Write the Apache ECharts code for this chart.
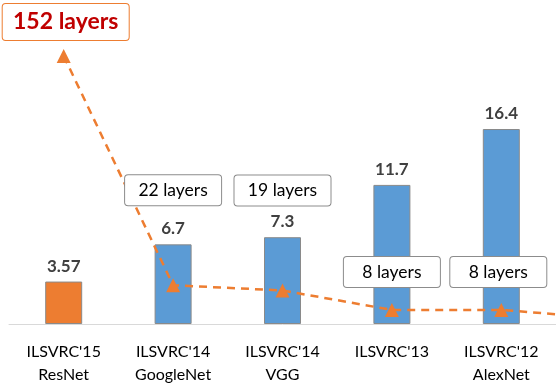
<!DOCTYPE html>
<html>
<head>
<meta charset="utf-8">
<script src="https://cdn.jsdelivr.net/npm/echarts@6/dist/echarts.min.js"></script>
<style>
  html, body { margin: 0; padding: 0; background: #fff; }
  #chart { width: 556px; height: 386px; }
</style>
</head>
<body>
<div id="chart"></div>
<script>
// ILSVRC winners: top-5 error (bars) and depth (dashed line)
var categories = ['ILSVRC\'15\nResNet', 'ILSVRC\'14\nGoogleNet', 'ILSVRC\'14\nVGG', 'ILSVRC\'13', 'ILSVRC\'12\nAlexNet']
var errorRates = [3.57, 6.7, 7.3, 11.7, 16.4]
var layers = [152, 22, 19, 8, 8]
var layerTail = 3 // line keeps going off the right edge
var layerLabels = ['152 layers', '22 layers', '19 layers', '8 layers', '8 layers']

var FONT = 'Lato, "Liberation Sans", sans-serif'
var BLUE = '#5b9bd5'
var ORANGE = '#ed7d31'
// where each layer box sits relative to its triangle
var boxOffsets = [[2, -34], [0, -95], [0, -100], [0, -38], [-3, -38]]

var barData = errorRates.map(function (v, i) {
  return { value: v, itemStyle: { color: i === 0 ? ORANGE : BLUE } }
})

var lineData = layers.map(function (v, i) {
  var big = i === 0
  return {
    value: [i, v],
    label: {
      show: true,
      position: 'inside',
      offset: boxOffsets[i],
      formatter: layerLabels[i],
      fontFamily: FONT,
      fontSize: big ? 23 : 17.5,
      fontWeight: big ? 'bold' : 'normal',
      color: big ? '#c00000' : '#000',
      backgroundColor: '#fff',
      borderColor: big ? ORANGE : '#8c8c8c',
      borderWidth: 1,
      borderRadius: 3,
      width: big ? 126 : 96,
      height: big ? 36 : 30,
      lineHeight: big ? 36 : 30,
      align: 'center',
      verticalAlign: 'middle'
    }
  }
})
lineData.push({ value: [layers.length, layerTail], symbol: 'none', label: { show: false } })

var option = {
  animation: false,
  grid: { left: 9, right: -3, top: 3, bottom: 61, containLabel: false },
  xAxis: [
    {
      type: 'category',
      data: categories,
      axisTick: { show: false },
      axisLine: { lineStyle: { color: '#d9d9d9', width: 1 } },
      axisLabel: { color: '#000', fontFamily: FONT, fontSize: 16, lineHeight: 23, margin: 16 }
    },
    { type: 'value', min: -0.5, max: 4.5, show: false }
  ],
  yAxis: [
    { type: 'value', min: 0, max: 27, show: false, splitLine: { show: false } },
    { type: 'value', min: 0, max: 182, show: false, splitLine: { show: false } }
  ],
  series: [
    {
      type: 'bar',
      data: barData,
      barWidth: 37,
      itemStyle: { borderColor: '#8a8a8a', borderWidth: 1 },
      label: {
        show: true,
        position: 'top',
        distance: 7,
        fontFamily: FONT,
        fontSize: 17,
        fontWeight: 'bold',
        color: '#404040'
      },
      z: 2
    },
    {
      type: 'line',
      xAxisIndex: 1,
      yAxisIndex: 1,
      data: lineData,
      symbol: 'triangle',
      symbolSize: 14,
      itemStyle: { color: ORANGE },
      lineStyle: { color: ORANGE, width: 2.5, type: [8, 6] },
      clip: true,
      z: 5
    }
  ]
}

var myChart = echarts.init(document.getElementById('chart'))
myChart.setOption(option)
</script>
</body>
</html>
